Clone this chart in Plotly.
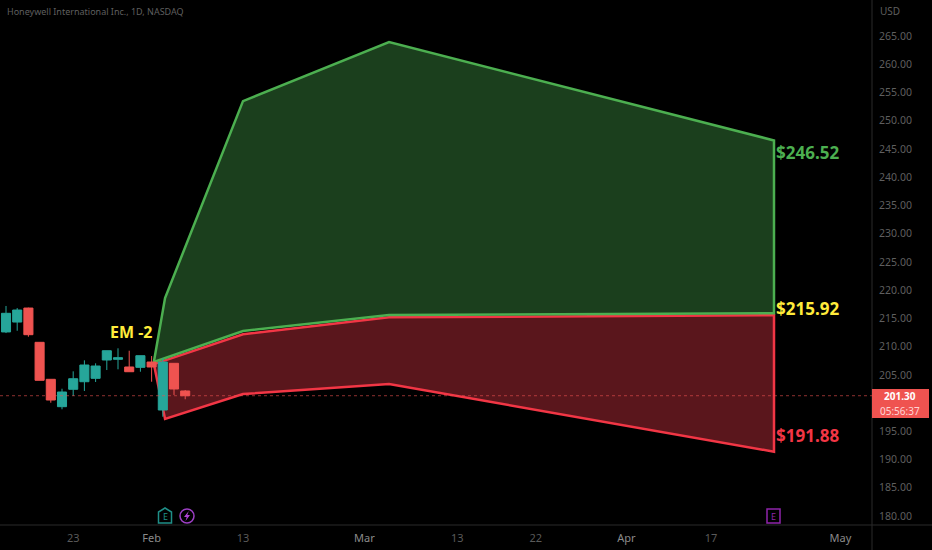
import plotly.graph_objects as go

W, H = 932, 550
AXIS_X, AXIS_Y = 872, 525

bar_idx = list(range(17))
opens = [212.6, 214.35, 216.83, 210.76, 204.21, 199.36, 202.44, 203.78, 204.38, 207.63, 207.75, 206.39, 206.33, 207.27, 198.77, 207.04, 202.14]
highs = [217.2, 216.83, 216.9, 210.76, 204.21, 202.54, 205.62, 207.57, 207.04, 209.27, 209.7, 209.27, 208.39, 208.33, 207.98, 207.04, 202.31]
lows = [212.4, 212.81, 211.75, 204.03, 200.06, 198.9, 201.25, 202.14, 203.73, 205.85, 205.98, 205.55, 205.55, 203.78, 197.58, 201.43, 200.67]
closes = [215.9, 216.48, 212.11, 204.03, 200.54, 201.96, 204.31, 206.74, 206.56, 209.27, 208.03, 205.55, 208.39, 206.39, 207.27, 202.49, 201.3]

band_x = [13.2, 14.2, 21.16, 34.2, 68.57]
upper = [207.27, 218.6, 253.49, 263.94, 246.52]
mid_high = [207.27, 212.76, 215.6, 215.92]
mid_low = [206.9, 212.2, 215.2, 215.55]
lower = [206.9, 197.18, 201.6, 203.38, 191.39]
mid_x = [13.2, 21.16, 34.2, 68.57]

# 200.00 sits behind the last price tag in the reference, so it is not listed
price_ticks = [180, 185, 190, 195, 205, 210, 215, 220, 225, 230, 235, 240, 245, 250, 255, 260, 265]
date_ticks = [6, 13, 21.16, 32, 40.3, 47.3, 55.4, 62.95, 74.5]
date_labels = ["23", "Feb", "13", "Mar", "13", "22", "Apr", "17", "May"]
major_labels = ["Feb", "Mar", "Apr", "May"]

last_price = 201.30
x_range = [-0.536, 77.32]
y_range = [178.4, 271.4]

GREEN = "#4caf50"
RED = "#f23645"
YELLOW = "#ffeb3b"
UP = "#26a69a"
DOWN = "#ef5350"
MUTED = "#5f5f5f"


def px(x):
    return x / W


def py(y):
    return 1 - y / H


def pixel_text(x, y, text, color, size, anchor="center", family="Noto Sans"):
    return dict(x=px(x), y=py(y), xref="paper", yref="paper", xanchor=anchor, yanchor="middle",
                showarrow=False, borderpad=0, text=text, font=dict(color=color, size=size, family=family))


def price_text(x, y, text, color, size, anchor="left"):
    return dict(x=x, y=y, xref="x", yref="y", xanchor=anchor, yanchor="middle", showarrow=False,
                text=f"<b>{text}</b>", font=dict(color=color, size=size, family="Noto Sans"))


tick_text = []
for t in date_labels:
    col = "#8a8a8a" if t in major_labels else "#5a5a5a"
    tick_text.append(f'<span style="color:{col}">{t}</span>')

fig = go.Figure()

# the bands go on the base axes so the candles can sit on top of them
fig.add_trace(go.Scatter(
    x=band_x + mid_x[::-1] + band_x[:1],
    y=lower + mid_low[::-1] + lower[:1],
    mode="lines", fill="toself", fillcolor="#5a161c",
    line=dict(color=RED, width=2.5), hoverinfo="skip"))
fig.add_trace(go.Scatter(
    x=band_x + mid_x[::-1] + band_x[:1],
    y=upper + mid_high[::-1] + upper[:1],
    mode="lines", fill="toself", fillcolor="#1b3f1d",
    line=dict(color=GREEN, width=2.5), hoverinfo="skip"))

fig.add_trace(go.Candlestick(
    x=bar_idx, open=opens, high=highs, low=lows, close=closes,
    xaxis="x2", yaxis="y2", whiskerwidth=0,
    increasing=dict(line=dict(color=UP, width=1), fillcolor=UP),
    decreasing=dict(line=dict(color=DOWN, width=1), fillcolor=DOWN)))

annots = [
    price_text(11.2, 212.6, "EM -2", YELLOW, 16, anchor="center"),
    price_text(68.55, 244.3, "$246.52", GREEN, 17),
    price_text(68.55, 216.8, "$215.92", YELLOW, 17),
    price_text(68.55, 194.3, "$191.88", RED, 17),
    pixel_text(6, 11, "Honeywell International Inc., 1D, NASDAQ", MUTED, 9, anchor="left"),
    pixel_text(879, 11, "USD", MUTED, 10, anchor="left"),
    pixel_text(900, 396, "<b>%.2f</b>" % last_price, "#ffffff", 10),
    pixel_text(900, 411, "05:56:37", "#ffd5d5", 10),
    pixel_text(165, 516, "E", "#1f8f88", 9),
    pixel_text(773, 516, "E", "#8e24aa", 9),
]

shapes = [
    dict(type="line", xref="paper", yref="paper", x0=px(AXIS_X), x1=px(AXIS_X), y0=0, y1=1,
         line=dict(color="#2a2a2a", width=1)),
    dict(type="line", xref="paper", yref="paper", x0=0, x1=1, y0=py(AXIS_Y), y1=py(AXIS_Y),
         line=dict(color="#2a2a2a", width=1)),
    dict(type="line", xref="paper", yref="y", x0=0, x1=px(AXIS_X), y0=last_price, y1=last_price,
         line=dict(color="#ef5350", width=1, dash="dot"), opacity=0.6),
    dict(type="rect", xref="paper", yref="paper", x0=px(AXIS_X), x1=px(929), y0=py(418), y1=py(389),
         fillcolor="#ef5350", line=dict(width=0)),
    # earnings / dividend markers under the bars
    dict(type="path", xref="paper", yref="paper",
         path=f"M {px(158.5)} {py(523)} L {px(171.5)} {py(523)} L {px(171.5)} {py(512)} "
              f"L {px(165)} {py(508)} L {px(158.5)} {py(512)} Z",
         line=dict(color="#1f8f88", width=1.5)),
    dict(type="circle", xref="paper", yref="paper", x0=px(180), x1=px(194), y0=py(523), y1=py(509),
         line=dict(color="#9c3fc4", width=1.5)),
    dict(type="path", xref="paper", yref="paper",
         path=f"M {px(188.8)} {py(511)} L {px(184)} {py(517)} L {px(186.7)} {py(517)} "
              f"L {px(185.5)} {py(521)} L {px(190)} {py(515)} L {px(187.3)} {py(515)} Z",
         fillcolor="#b044d8", line=dict(width=0)),
    dict(type="rect", xref="paper", yref="paper", x0=px(767), x1=px(780), y0=py(523), y1=py(509),
         line=dict(color="#8e24aa", width=1.5)),
]

x_dom = [0, px(AXIS_X)]
y_dom = [py(AXIS_Y), 1]

fig.update_layout(
    width=W, height=H,
    margin=dict(l=0, r=0, t=0, b=0),
    paper_bgcolor="#000000", plot_bgcolor="#000000",
    showlegend=False, boxgap=0.1, boxgroupgap=0.1,
    annotations=annots, shapes=shapes,
    xaxis=dict(domain=x_dom, range=x_range, showgrid=False, zeroline=False, showline=False,
               tickmode="array", tickvals=date_ticks, ticktext=tick_text,
               ticks="outside", ticklen=3, tickcolor="#000000",
               tickfont=dict(size=11, family="Noto Sans", color="#5a5a5a"), rangeslider=dict(visible=False)),
    yaxis=dict(domain=y_dom, range=y_range, side="right", showgrid=False, zeroline=False, showline=False,
               tickmode="array", tickvals=price_ticks, tickformat=".2f",
               ticks="outside", ticklen=4, tickcolor="#000000",
               tickfont=dict(size=10.5, family="Noto Sans", color=MUTED)),
    xaxis2=dict(domain=x_dom, range=x_range, overlaying="x", anchor="y2", visible=False,
                rangeslider=dict(visible=False)),
    yaxis2=dict(domain=y_dom, range=y_range, overlaying="y", anchor="x2", visible=False),
)

fig.write_html("out.html", config=dict(displayModeBar=False),
               post_script="document.body.style.margin='0';")
